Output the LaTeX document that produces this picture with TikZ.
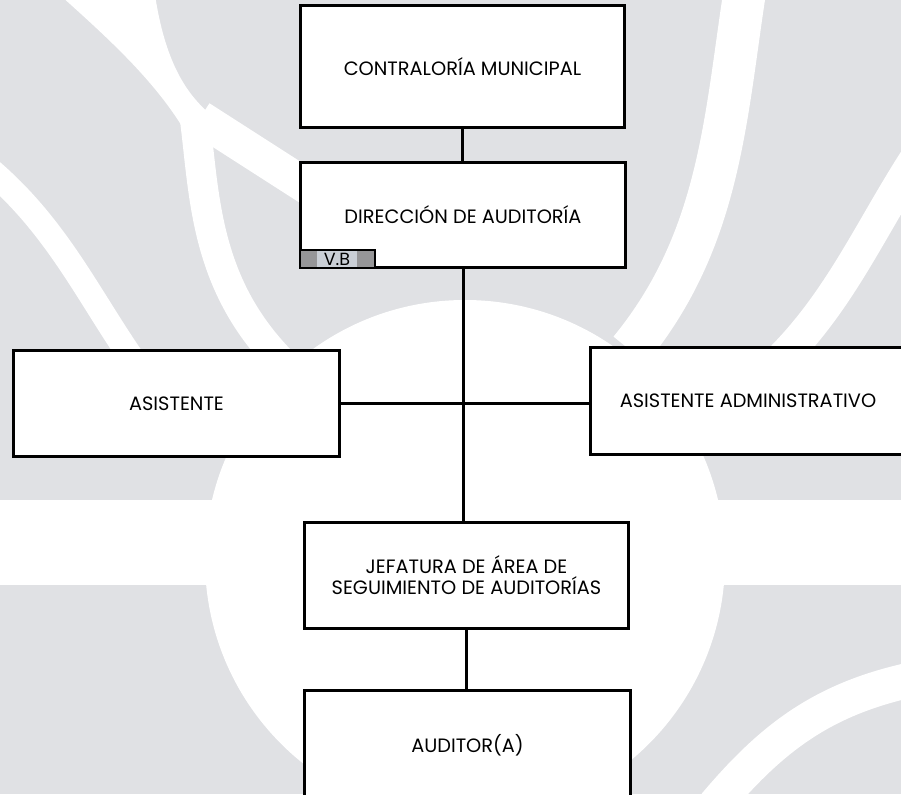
\documentclass[tikz,border=0pt]{standalone}
\usepackage{fontspec}
\setmainfont{Poppins}
\usepackage{tikz}

\definecolor{fondo}{RGB}{224,225,228}
\definecolor{vbgris}{RGB}{150,150,152}
\definecolor{vbclaro}{RGB}{202,207,214}

\tikzset{
  caja/.style={draw=black, fill=white, line width=0.06cm, inner sep=0cm,
               align=center, font=\fontsize{11}{11.8}\selectfont},
  linea/.style={draw=black, line width=0.06cm},
  trazo/.style={draw=white, line cap=butt}
}

\begin{document}
\begin{tikzpicture}[x=0.02cm, y=-0.02cm]

\clip (0,0) rectangle (901,794);
\useasboundingbox (0,0) rectangle (901,794);

% fondo
\fill[fondo] (0,0) rectangle (901,794);
\fill[white] (465,560) circle (260);
\fill[white] (0,500) rectangle (901,585);
\fill[white] (60,-5) -- (155,-5) .. controls (165,60) and (185,95) .. (215,118)
  -- (190,140) .. controls (160,85) and (110,40) .. (60,-5);
\draw[trazo, line width=0.6cm] (195,120) .. controls (205,200) and (205,290) .. (290,370);
\draw[trazo, line width=0.7cm] (200,118) -- (320,195);
\draw[trazo, line width=0.5cm] (-10,170) .. controls (60,230) and (90,300) .. (140,370);
\draw[trazo, line width=0.85cm] (745,-10) .. controls (725,120) and (720,240) .. (630,350);
\draw[trazo, line width=0.65cm] (915,160) .. controls (870,230) and (840,300) .. (780,360);
\draw[trazo, line width=0.7cm] (910,680) .. controls (820,700) and (770,740) .. (715,805);

% cajas
\draw (462.5,66.5) node[caja, minimum width=6.5cm, minimum height=2.46cm]
  (contraloria) {CONTRALORÍA MUNICIPAL};
\draw (463,215) node[caja, minimum width=6.52cm, minimum height=2.12cm]
  (direccion) {DIRECCIÓN DE AUDITORÍA};
\draw (176.5,403.5) node[caja, minimum width=6.54cm, minimum height=2.14cm]
  (asistente) {ASISTENTE};
\draw (748,401) node[caja, minimum width=6.3cm, minimum height=2.16cm]
  (asisadm) {ASISTENTE ADMINISTRATIVO};
\draw (466.5,575) node[caja, minimum width=6.5cm, minimum height=2.12cm]
  (jefatura) {JEFATURA DE ÁREA DE\\SEGUIMIENTO DE AUDITORÍAS};
\draw (467.5,745) node[caja, minimum width=6.54cm, minimum height=2.2cm]
  (auditor) {AUDITOR(A)};

% visto bueno
\draw (direccion.south west) node[anchor=south west, draw=black, fill=vbgris,
  line width=0.04cm, minimum width=1.5cm, minimum height=0.36cm, inner sep=0cm]
  (vb) {};
\draw (vb) node[fill=vbclaro, minimum width=0.8cm, minimum height=0.32cm, inner sep=0cm,
  font=\fontsize{10}{10}\selectfont] (vbtexto) {V.B};

% conectores
\draw[linea] (contraloria.south) -- (contraloria.south |- direccion.north);
\draw[linea] (direccion.south) -- (direccion.south |- jefatura.north);
\draw[linea] (asistente.east) -- (asistente.east -| asisadm.west);
\draw[linea] (jefatura.south) -- (jefatura.south |- auditor.north);

\end{tikzpicture}
\end{document}
